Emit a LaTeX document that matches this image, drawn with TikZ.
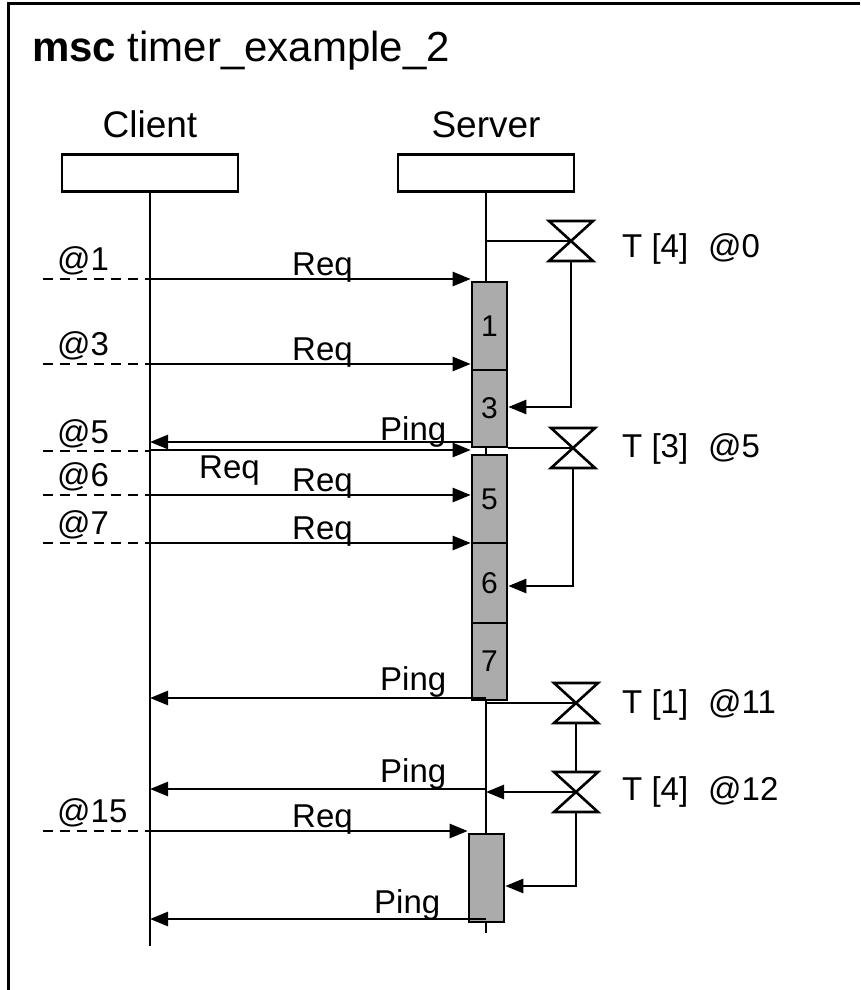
\documentclass[tikz,border=0pt]{standalone}
\usepackage{fontspec}
\setmainfont{Liberation Sans}
\usetikzlibrary{arrows.meta}

\begin{document}
\begin{tikzpicture}[x=1pt,y=-1pt,
	every node/.style={inner sep=0pt,font=\fontsize{33}{33}\selectfont},
	head/.style={draw,line width=2.6pt,minimum width=176pt,minimum height=37pt},
	act/.style={draw,fill=black!33,line width=2.6pt,minimum width=35pt,font=\fontsize{30}{30}\selectfont},
	msg/.style={line width=2.6pt,-{Triangle[length=18pt,width=14pt]}},
	tline/.style={line width=2.6pt},
	clockline/.style={line width=2.6pt,dash pattern=on 10pt off 7pt},
	timer/.pic={\draw[line width=2.6pt] (-22,-20) -- (22,-20) -- (-22,20) -- (22,20) -- cycle;
		\coordinate (-c) at (0,0);
		\coordinate (-top) at (0,-20);
		\coordinate (-bot) at (0,20);}]
	\useasboundingbox (0,0) rectangle (860,990);
	\draw[line width=3pt] (860,4) -| (8,990);
	\node[anchor=base west,font=\fontsize{42}{42}\selectfont] (title) at (32,62) {\textbf{msc} timer\_example\_2};
	% instances
	\node[anchor=base,font=\fontsize{37}{37}\selectfont] (cname) at (150,137) {Client};
	\node[anchor=base,font=\fontsize{37}{37}\selectfont] (sname) at (486,137) {Server};
	\node[head] (chead) at (150,173) {};
	\node[head] (shead) at (486,173) {};
	\coordinate (cend) at (150,946);
	\coordinate (send) at (486,933);
	\draw[tline] (chead.south) -- (cend);
	\draw[tline] (shead.south) -- (send);
	% activations
	\node[act,minimum height=88pt] (a1) at (489.5,326) {1};
	\node[act,minimum height=77pt] (a3) at (489.5,408.5) {3};
	\node[act,minimum height=88pt] (a5) at (489.5,499) {5};
	\node[act,minimum height=80pt] (a6) at (489.5,583) {6};
	\node[act,minimum height=77pt] (a7) at (489.5,661.5) {7};
	\node[act,minimum height=88pt] (a8) at (486.5,878) {};
	% timers
	\pic (t0) at (571,241) {timer};
	\pic (t1) at (573,448) {timer};
	\pic (t2) at (576,703) {timer};
	\pic (t3) at (576,792) {timer};
	\node[anchor=base west] (t0l) at (622,257) {T [4]\hspace{20pt}@0};
	\node[anchor=base west] (t1l) at (622,457) {T [3]\hspace{20pt}@5};
	\node[anchor=base west] (t2l) at (622,713) {T [1]\hspace{20pt}@11};
	\node[anchor=base west] (t3l) at (622,800) {T [4]\hspace{20pt}@12};
	\draw[tline] (send |- t0-c) -- (t0-c);
	\draw[msg] (t0-bot) |- (a3.east |- 0,407);
	\draw[tline] (a3.east |- t1-c) -- (t1-c);
	\draw[msg] (t1-bot) |- (a6.east |- 0,586);
	\draw[tline] (send |- t2-c) -- (t2-c);
	\draw[tline] (t2-bot) -- (t3-top);
	\draw[msg] (t3-c) -- (send |- t3-c);
	\draw[msg] (t3-bot) |- (a8.east |- 0,886);
	% messages
	\draw[clockline] (43,279) -- (cend |- 0,279);
	\draw[msg] (cend |- 0,279) -- (a1.west |- 0,279);
	\node[anchor=base west] (m1) at (292,275) {Req};
	\node[anchor=base west] (c1) at (57,270) {@1};
	\draw[clockline] (43,364) -- (cend |- 0,364);
	\draw[msg] (cend |- 0,364) -- (a1.west |- 0,364);
	\node[anchor=base west] (m3) at (292,360) {Req};
	\node[anchor=base west] (c3) at (57,355) {@3};
	\draw[msg] (a3.west |- 0,442) -- (cend |- 0,442);
	\node[anchor=base west] (p5) at (380,440) {Ping};
	\draw[clockline] (43,451) -- (cend |- 0,451);
	\draw[msg] (cend |- 0,450) -- (a5.west |- 0,450);
	\node[anchor=base west] (m5) at (199,478) {Req};
	\node[anchor=base west] (c5) at (57,443) {@5};
	\draw[clockline] (43,495) -- (cend |- 0,495);
	\draw[msg] (cend |- 0,495) -- (a5.west |- 0,495);
	\node[anchor=base west] (m6) at (292,491) {Req};
	\node[anchor=base west] (c6) at (57,486) {@6};
	\draw[clockline] (43,543) -- (cend |- 0,543);
	\draw[msg] (cend |- 0,543) -- (a6.west |- 0,543);
	\node[anchor=base west] (m7) at (292,539) {Req};
	\node[anchor=base west] (c7) at (57,534) {@7};
	\draw[msg] (send |- 0,698) -- (cend |- 0,698);
	\node[anchor=base west] (p11) at (380,690) {Ping};
	\draw[msg] (send |- 0,789) -- (cend |- 0,789);
	\node[anchor=base west] (p12) at (380,782) {Ping};
	\draw[clockline] (43,831) -- (cend |- 0,831);
	\draw[msg] (cend |- 0,831) -- (a8.west |- 0,831);
	\node[anchor=base west] (m15) at (292,827) {Req};
	\node[anchor=base west] (c15) at (57,822) {@15};
	\draw[msg] (send |- 0,919) -- (cend |- 0,919);
	\node[anchor=base west] (p16) at (374,913) {Ping};
\end{tikzpicture}
\end{document}
